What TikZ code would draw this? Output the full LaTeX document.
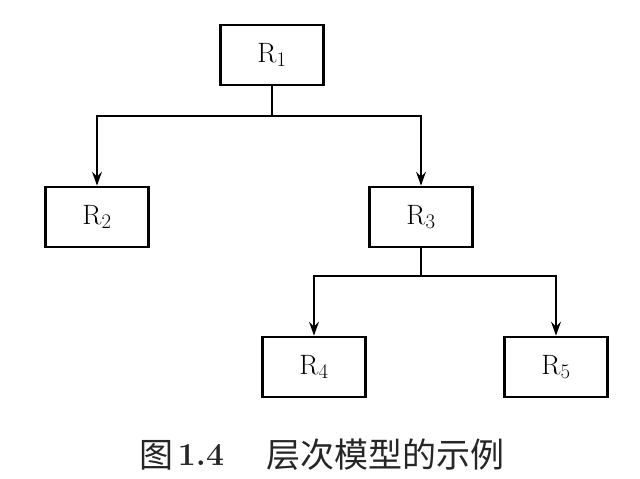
\documentclass[tikz,border=0pt]{standalone}
\usepackage{fontspec}
\newfontfamily\cjk{Noto Sans CJK SC}
\usetikzlibrary{arrows.meta}
\begin{document}
\begin{tikzpicture}[x=1pt,y=-1pt,
  rbox/.style={draw=black, line width=2.8pt, minimum width=103pt, minimum height=60pt, inner sep=0pt, font=\fontsize{28}{32}\selectfont},
  conn/.style={draw=black, line width=1.1pt},
  arr/.style={conn, -{Stealth[length=14pt,width=10pt,inset=5pt]}},
  captxt/.style={text=black!85, inner sep=0pt}]
\useasboundingbox (0,0) rectangle (640,479);
\node[rbox] (R1) at (272,55) {R$_1$};
\node[rbox] (R2) at (97,217) {R$_2$};
\node[rbox] (R3) at (421,217) {R$_3$};
\node[rbox] (R4) at (314,367) {R$_4$};
\node[rbox] (R5) at (556,367) {R$_5$};
\coordinate (j1) at (272,116);
\coordinate (j2) at (421,276);
\draw[arr] (R1.south) -- (j1) -| (R2.north);
\draw[arr] (j1) -| (R3.north);
\draw[arr] (R3.south) -- (j2) -| (R4.north);
\draw[arr] (j2) -| (R5.north);
\node[captxt, font=\cjk\fontsize{34}{38}\selectfont] (fig) at (156,455) {图};
\node[captxt, font=\bfseries\fontsize{32}{36}\selectfont] (num) at (201,455) {1.4};
\node[captxt, font=\cjk\fontsize{34}{38}\selectfont] (cap) at (385,455) {层次模型的示例};
\end{tikzpicture}
\end{document}
